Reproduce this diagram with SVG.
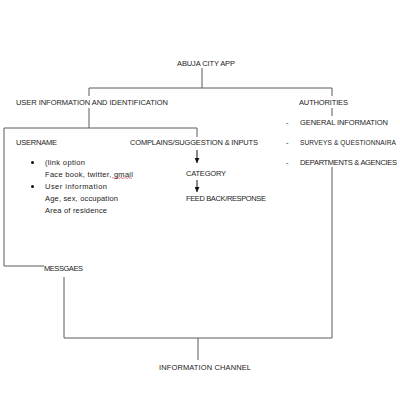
<svg xmlns="http://www.w3.org/2000/svg" width="400" height="400" viewBox="0 0 400 400">
<defs>
<style>
text{font-family:"Liberation Sans",Arial,sans-serif;font-size:7.5px;fill:#222}
.ln{stroke:#5a5a5a;stroke-width:1;fill:none}
.ar{stroke:#111;stroke-width:1;fill:none}
</style>
<marker id="ah" viewBox="0 0 6 6" refX="6" refY="3" markerWidth="5" markerHeight="5" orient="auto" markerUnits="userSpaceOnUse">
<path d="M0,0 L6,3 L0,6 Z" fill="#111"/>
</marker>
</defs>
<rect width="400" height="400" fill="#fff"/>
<g id="connectors">
<path class="ln" d="M202,68 V88 M89,88 H332 M89,88 V96 M332,88 V96"/>
<path class="ln" d="M89,108 V128 M4,128 H197 V137 M4,128 V266 H44"/>
<path class="ln" d="M332,108 V116"/>
<path class="ln" d="M64,277 V338 H332 V167 M198,338 V360"/>
<path class="ar" d="M197,150 V163" marker-end="url(#ah)"/>
<path class="ar" d="M197,180 V192" marker-end="url(#ah)"/>
<path d="M112,178 q1,-1 2,0 t2,0 t2,0 t2,0 t2,0 t2,0 t2,0 t2,0 t2,0 t2,0" stroke="#d33" stroke-width="0.6" fill="none"/>
</g>
<g id="abuja"><text x="177" y="66" textLength="58">ABUJA CITY APP</text></g>
<g id="user-info"><text x="16" y="105" textLength="152">USER INFORMATION AND IDENTIFICATION</text></g>
<g id="authorities"><text x="299" y="105" textLength="49">AUTHORITIES</text></g>
<g id="authority-items">
<text x="286" y="125">-</text><text x="300" y="125" textLength="88">GENERAL INFORMATION</text>
<text x="286" y="145">-</text><text x="300" y="145" style="font-size:6.6px" textLength="96">SURVEYS &amp; QUESTIONNAIRA</text>
<text x="286" y="165">-</text><text x="300" y="165" textLength="97">DEPARTMENTS &amp; AGENCIES</text>
</g>
<g id="username">
<text x="16" y="145" textLength="41">USERNAME</text>
<circle cx="32.5" cy="162.5" r="1.5" fill="#111"/>
<text x="45" y="165" textLength="40">(link option</text>
<text x="45" y="177" textLength="88">Face book, twitter, gmail</text>
<circle cx="32.5" cy="186.5" r="1.5" fill="#111"/>
<text x="45" y="189" textLength="62">User information</text>
<text x="45" y="201" textLength="73">Age, sex, occupation</text>
<text x="45" y="213" textLength="62">Area of residence</text>
</g>
<g id="complains"><text x="130" y="145" textLength="128">COMPLAINS/SUGGESTION &amp; INPUTS</text></g>
<g id="category"><text x="186" y="176" textLength="40">CATEGORY</text></g>
<g id="feedback"><text x="186" y="201" textLength="80">FEED BACK/RESPONSE</text></g>
<g id="messages"><text x="44" y="271" textLength="39">MESSGAES</text></g>
<g id="info-channel"><text x="159" y="370" textLength="92">INFORMATION CHANNEL</text></g>
</svg>
